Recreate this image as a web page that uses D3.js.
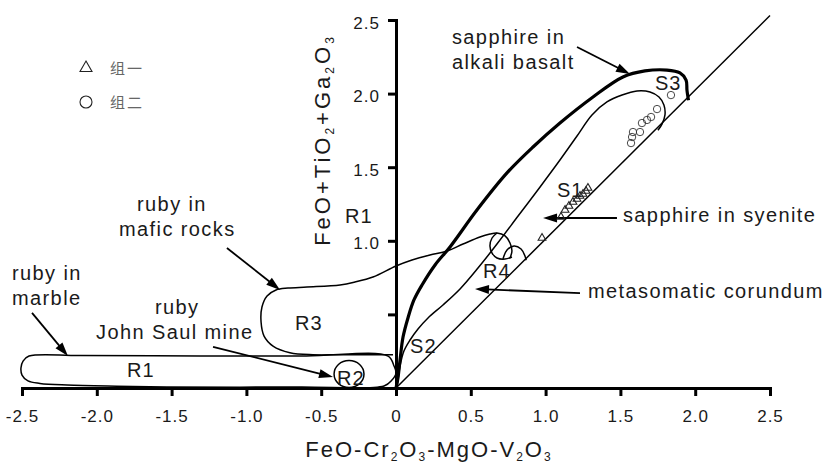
<!DOCTYPE html>
<html>
<head>
<meta charset="utf-8">
<script src="https://cdn.jsdelivr.net/npm/d3@7"></script>
<style>
body { margin: 0; background: #fff; }
svg { display: block; font-family: Arial, "Liberation Sans", sans-serif; }
</style>
</head>
<body>
<svg id="chart" width="834" height="465"></svg>
<script>
"use strict";

// axis ticks
var xTicks = [-2.5, -2, -1.5, -1, -0.5, 0, 0.5, 1, 1.5, 2, 2.5];
var xTickLabels = ["-2.5", "-2.0", "-1.5", "-1.0", "-0.5", "0", "0.5", "1.0", "1.5", "2.0", "2.5"];
var yTicks = [0.5, 1, 1.5, 2, 2.5];
var yTickLabels = ["", "1.0", "1.5", "2.0", "2.5"];

// samples: group one (triangles) and group two (circles)
var group1 = [[0.976, 1.019], [1.103, 1.162], [1.130, 1.209], [1.156, 1.236], [1.183, 1.264],
	[1.210, 1.284], [1.230, 1.304], [1.250, 1.318], [1.270, 1.338], [1.283, 1.359]];
var group2 = [[1.838, 1.990], [1.745, 1.895], [1.705, 1.841], [1.678, 1.821], [1.644, 1.800],
	[1.631, 1.739], [1.584, 1.739], [1.578, 1.705], [1.571, 1.664]];

// field boundaries
var diagonal = [[0, 0], [2.5, 2.53]];
var basaltLine = [[0, 0], [0.013, 0.068], [0.027, 0.190], [0.047, 0.346], [0.080, 0.476],
	[0.120, 0.598], [0.174, 0.700], [0.261, 0.836], [0.361, 0.958], [0.541, 1.209],
	[0.742, 1.461], [0.916, 1.637], [1.096, 1.800], [1.317, 1.977], [1.517, 2.113],
	[1.664, 2.154], [1.811, 2.160], [1.898, 2.140], [1.939, 2.092], [1.945, 2.024], [1.955, 1.955]];
var syeniteLine = [[0.003, 0.003], [0.007, 0.014], [0.027, 0.149], [0.053, 0.251], [0.094, 0.326],
	[0.147, 0.401], [0.214, 0.476], [0.314, 0.564], [0.428, 0.673], [0.548, 0.815],
	[0.675, 0.978], [0.816, 1.168], [0.963, 1.366], [1.096, 1.549], [1.210, 1.712],
	[1.310, 1.855], [1.410, 1.943], [1.511, 1.990], [1.611, 2.018], [1.698, 2.011],
	[1.758, 1.977], [1.791, 1.923], [1.798, 1.855], [1.778, 1.793], [1.751, 1.751]];
var fieldR1 = [[-0.053, 0.217], [-0.013, 0.149], [0.000, 0.102], [-0.027, 0.054], [-0.080, 0.014],
	[-0.642, 0.007], [-1.531, 0.007], [-1.865, 0.012], [-2.199, 0.020], [-2.380, 0.031],
	[-2.460, 0.048], [-2.500, 0.088], [-2.507, 0.136], [-2.493, 0.183], [-2.453, 0.217],
	[-2.112, 0.221], [-1.310, 0.218], [-0.600, 0.218]];
var fieldR3 = [[-0.020, 0.226], [-0.374, 0.226], [-0.555, 0.226], [-0.709, 0.240], [-0.822, 0.285],
	[-0.882, 0.353], [-0.902, 0.448], [-0.896, 0.550], [-0.862, 0.625], [-0.802, 0.666],
	[-0.722, 0.679], [-0.595, 0.686], [-0.374, 0.700], [-0.274, 0.720], [-0.154, 0.754],
	[0.000, 0.829], [0.107, 0.870], [0.227, 0.904], [0.341, 0.931], [0.448, 0.978],
	[0.561, 1.026], [0.628, 1.046], [0.675, 1.053], [0.729, 1.033], [0.762, 0.985],
	[0.775, 0.931], [0.762, 0.883]];
var loopR4a = [[0.675, 1.053], [0.642, 1.019], [0.628, 0.965], [0.642, 0.917], [0.675, 0.883],
	[0.729, 0.876], [0.775, 0.890]];
var loopR4b = [[0.715, 0.876], [0.742, 0.938], [0.789, 0.965], [0.836, 0.944], [0.862, 0.897],
	[0.870, 0.868]];
var fieldR2 = { center: [-0.314, 0.095], radius: [0.1, 0.092] };

// field names
var fieldLabels = [
	{ text: "R1", at: [-0.341, 1.121] },
	{ text: "S3", at: [1.731, 2.024] },
	{ text: "S1", at: [1.076, 1.298] },
	{ text: "S2", at: [0.094, 0.238] },
	{ text: "R4", at: [0.582, 0.747] },
	{ text: "R3", at: [-0.675, 0.394] },
	{ text: "R2", at: [-0.394, 0.020] },
	{ text: "R1", at: [-1.798, 0.075] }
];

// notes with arrows
var notes = [
	{ lines: ["sapphire in", "alkali basalt"], at: [0.374, 2.337], from: [1.210, 2.317], to: [1.564, 2.133] },
	{ lines: ["sapphire in syenite"], at: [1.517, 1.128], from: [1.477, 1.155], to: [0.983, 1.155] },
	{ lines: ["metasomatic corundum"], at: [1.283, 0.611], from: [1.230, 0.645], to: [0.528, 0.673] },
	{ lines: ["ruby in", "mafic rocks"], at: [-1.731, 1.202], indent: [0, -18], from: [-1.130, 0.951], to: [-0.775, 0.666] },
	{ lines: ["ruby in", "marble"], at: [-2.567, 0.734], from: [-2.433, 0.510], to: [-2.193, 0.217] },
	{ lines: ["ruby", "John Saul mine"], at: [-1.611, 0.503], indent: [0, -59], from: [-1.223, 0.279], to: [-0.421, 0.075] }
];

var legendItems = ["组一", "组二"];

var svg = d3.select("#chart");

var x = d3.scaleLinear().domain([-2.5, 2.5]).range([22, 770]);
var y = d3.scaleLinear().domain([0, 2.5]).range([388, 20]);

var line = d3.line()
	.x(function (d) { return x(d[0]); })
	.y(function (d) { return y(d[1]); })
	.curve(d3.curveCatmullRom.alpha(0.5));

var lineClosed = d3.line()
	.x(function (d) { return x(d[0]); })
	.y(function (d) { return y(d[1]); })
	.curve(d3.curveCatmullRomClosed.alpha(0.5));

var plot = svg.append("g");

// fields
plot.append("path").attr("d", lineClosed(fieldR1))
	.attr("fill", "none").attr("stroke", "#000").attr("stroke-width", 1.5);
plot.append("path").attr("d", line(fieldR3))
	.attr("fill", "none").attr("stroke", "#000").attr("stroke-width", 1.5);
plot.append("path").attr("d", line(loopR4a))
	.attr("fill", "none").attr("stroke", "#000").attr("stroke-width", 1.5);
plot.append("path").attr("d", line(loopR4b))
	.attr("fill", "none").attr("stroke", "#000").attr("stroke-width", 1.5);
plot.append("ellipse")
	.attr("cx", x(fieldR2.center[0])).attr("cy", y(fieldR2.center[1]))
	.attr("rx", x(fieldR2.center[0] + fieldR2.radius[0]) - x(fieldR2.center[0]))
	.attr("ry", y(fieldR2.center[1]) - y(fieldR2.center[1] + fieldR2.radius[1]))
	.attr("fill", "none").attr("stroke", "#000").attr("stroke-width", 1.5);

plot.append("path").attr("d", d3.line().x(function (d) { return x(d[0]); }).y(function (d) { return y(d[1]); })(diagonal))
	.attr("fill", "none").attr("stroke", "#000").attr("stroke-width", 1.5);
plot.append("path").attr("d", line(syeniteLine))
	.attr("fill", "none").attr("stroke", "#000").attr("stroke-width", 1.5);
plot.append("path").attr("d", line(basaltLine))
	.attr("fill", "none").attr("stroke", "#000").attr("stroke-width", 3.2)
	.attr("stroke-linejoin", "round");

// axes
var xAxis = d3.axisBottom(x).tickValues(xTicks).tickSize(8).tickSizeOuter(0).tickPadding(14)
	.tickFormat(function (d, i) { return xTickLabels[i]; });
var yAxis = d3.axisLeft(y).tickValues(yTicks).tickSize(8).tickSizeOuter(0).tickPadding(8)
	.tickFormat(function (d, i) { return yTickLabels[i]; });

var gx = svg.append("g").attr("transform", "translate(0," + y(0) + ")").call(xAxis);
var gy = svg.append("g").attr("transform", "translate(" + x(0) + ",0)").call(yAxis);

[gx, gy].forEach(function (g) {
	g.select(".domain").attr("stroke", "#000").attr("stroke-width", 3).attr("stroke-linecap", "square");
	g.selectAll(".tick line").attr("stroke", "#000").attr("stroke-width", 3);
	g.selectAll(".tick text")
		.attr("fill", "#1a1a1a")
		.style("font-family", "Arial, 'Liberation Sans', sans-serif")
		.style("font-size", "17px")
		.style("letter-spacing", "1px");
});
gy.selectAll(".tick text").attr("dy", "0.47em");

// axis titles with subscripts
function richText(sel, parts) {
	parts.forEach(function (p, i) {
		var prevSub = i > 0 && parts[i - 1][1];
		var t = sel.append("tspan").text(p[0]);
		if (p[1]) {
			t.attr("dy", 4).style("font-size", "12px");
		} else if (prevSub) {
			t.attr("dy", -4);
		}
	});
}

var xTitle = svg.append("text")
	.attr("x", 429).attr("y", 457)
	.attr("text-anchor", "middle")
	.style("font-size", "22px").style("letter-spacing", "2px")
	.attr("fill", "#1a1a1a");
richText(xTitle, [["FeO-Cr", false], ["2", true], ["O", false], ["3", true], ["-MgO-V", false], ["2", true], ["O", false], ["3", true]]);

var yTitle = svg.append("text")
	.attr("transform", "translate(330,140) rotate(-90)")
	.attr("text-anchor", "middle")
	.style("font-size", "22px").style("letter-spacing", "3px")
	.attr("fill", "#1a1a1a");
richText(yTitle, [["FeO+TiO", false], ["2", true], ["+Ga", false], ["2", true], ["O", false], ["3", true]]);

// field labels
plot.selectAll(".flabel")
	.data(fieldLabels)
	.enter().append("text")
	.attr("class", "flabel")
	.attr("x", function (d) { return x(d.at[0]); })
	.attr("y", function (d) { return y(d.at[1]); })
	.style("font-size", "20px").style("letter-spacing", "1px")
	.attr("fill", "#1a1a1a")
	.text(function (d) { return d.text; });

// notes
function arrow(p0, p1) {
	var x0 = x(p0[0]), y0 = y(p0[1]), x1 = x(p1[0]), y1 = y(p1[1]);
	var a = Math.atan2(y1 - y0, x1 - x0), len = 14, w = 4.5;
	var bx = x1 - len * Math.cos(a), by = y1 - len * Math.sin(a);
	plot.append("line")
		.attr("x1", x0).attr("y1", y0).attr("x2", bx + 2 * Math.cos(a)).attr("y2", by + 2 * Math.sin(a))
		.attr("stroke", "#000").attr("stroke-width", 1.8);
	plot.append("path")
		.attr("d", "M" + x1 + "," + y1 +
			"L" + (bx + w * Math.sin(a)) + "," + (by - w * Math.cos(a)) +
			"L" + (bx - w * Math.sin(a)) + "," + (by + w * Math.cos(a)) + "Z")
		.attr("fill", "#000");
}

notes.forEach(function (n) {
	var t = plot.append("text")
		.style("font-size", "20px").style("letter-spacing", "1.4px")
		.attr("fill", "#1a1a1a");
	n.lines.forEach(function (l, i) {
		var off = n.indent ? n.indent[i] : 0;
		t.append("tspan")
			.attr("x", x(n.at[0]) + off)
			.attr("y", y(n.at[1]) + i * 25)
			.text(l);
	});
	arrow(n.from, n.to);
});

// samples
plot.selectAll(".tri")
	.data(group1)
	.enter().append("path")
	.attr("class", "tri")
	.attr("d", d3.symbol(d3.symbolTriangle, 26))
	.attr("transform", function (d) { return "translate(" + x(d[0]) + "," + y(d[1]) + ")"; })
	.attr("fill", "none").attr("stroke", "#222").attr("stroke-width", 1.1);

plot.selectAll(".circ")
	.data(group2)
	.enter().append("circle")
	.attr("class", "circ")
	.attr("cx", function (d) { return x(d[0]); })
	.attr("cy", function (d) { return y(d[1]); })
	.attr("r", 3.7)
	.attr("fill", "none").attr("stroke", "#333").attr("stroke-width", 0.9);

// legend
var legend = svg.append("g").attr("transform", "translate(86,68)");
legend.append("path")
	.attr("d", d3.symbol(d3.symbolTriangle, 62))
	.attr("fill", "none").attr("stroke", "#222").attr("stroke-width", 1.1);
legend.append("circle")
	.attr("cy", 34).attr("r", 6)
	.attr("fill", "none").attr("stroke", "#222").attr("stroke-width", 1.1);
legend.selectAll(".ltext")
	.data(legendItems)
	.enter().append("text")
	.attr("x", 24)
	.attr("y", function (d, i) { return 6 + i * 34; })
	.style("font-family", "'Noto Sans CJK SC', sans-serif")
	.style("font-size", "15px").style("letter-spacing", "2px")
	.attr("fill", "#666")
	.text(function (d) { return d; });
</script>
</body>
</html>
